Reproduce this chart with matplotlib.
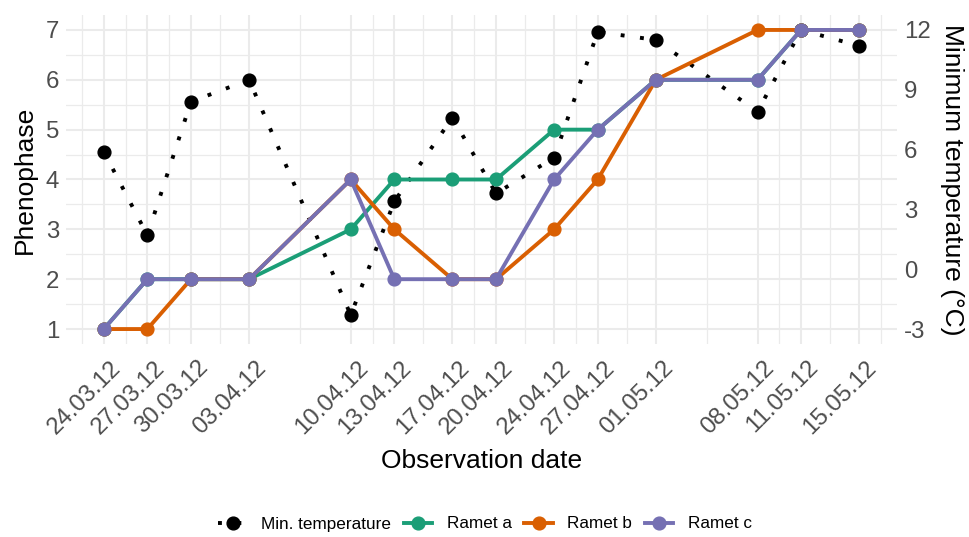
import matplotlib
matplotlib.use("Agg")
import matplotlib.pyplot as plt
import matplotlib.dates as mdates
import matplotlib.transforms as mtransforms
from matplotlib.lines import Line2D
import numpy as np
import datetime as dt

plt.rcParams['font.family'] = ['Liberation Sans', 'DejaVu Sans']

dates_str = ["24.03.12", "27.03.12", "30.03.12", "03.04.12", "10.04.12", "13.04.12", "17.04.12",
             "20.04.12", "24.04.12", "27.04.12", "01.05.12", "08.05.12", "11.05.12", "15.05.12"]
min_temp = [5.9, 1.7, 8.4, 9.5, -2.3, 3.4, 7.6, 3.8, 5.6, 11.9, 11.5, 7.9, 12.0, 11.2]
ramet_a = [1, 2, 2, 2, 3, 4, 4, 4, 5, 5, 6, 6, 7, 7]
ramet_b = [1, 1, 2, 2, 4, 3, 2, 2, 3, 4, 6, 7, 7, 7]
ramet_c = [1, 2, 2, 2, 4, 2, 2, 2, 4, 5, 6, 6, 7, 7]
y_ticks = [1, 2, 3, 4, 5, 6, 7]
temp_ticks = [-3, 0, 3, 6, 9, 12]

dates = [dt.datetime.strptime(s, "%d.%m.%y") for s in dates_str]
xnum = mdates.date2num(dates)

def t2p(t):
    return 1 + (np.asarray(t, dtype=float) + 3) * 0.4

def p2t(p):
    return (np.asarray(p, dtype=float) - 1) / 0.4 - 3

col_a, col_b, col_c = "#1B9E77", "#D95F02", "#7570B3"
grid_col = "#EBEBEB"
tick_col = "#4D4D4D"

fig = plt.figure(figsize=(9.7, 5.37), dpi=100)
ax = fig.add_axes([66/970, 1-344/537, (897-66)/970, (344-15)/537])

# limits with 5% expansion
span = xnum[-1] - xnum[0]
ax.set_xlim(xnum[0] - 0.05*span, xnum[-1] + 0.05*span)
ax.set_ylim(0.7, 7.3)

# grid: major + minor (ggplot-style)
bd = xnum[1] - xnum[0]
ext = np.concatenate([[xnum[0]-bd], xnum, [xnum[-1]+bd]])
x_minor = (ext[:-1] + ext[1:]) / 2
for xm in x_minor:
    ax.axvline(xm, color=grid_col, lw=0.9, zorder=0)
for xm in xnum:
    ax.axvline(xm, color=grid_col, lw=1.5, zorder=0.1)
for ym in np.arange(0.5, 8, 1.0):
    ax.axhline(ym, color=grid_col, lw=0.9, zorder=0)
for ym in y_ticks:
    ax.axhline(ym, color=grid_col, lw=1.5, zorder=0.1)

lw = 2.8
ms = 9.2
dot_style = (0, (1, 4))
ax.plot(xnum, t2p(min_temp), color="black", lw=2.8, linestyle=dot_style,
        marker="o", ms=ms, zorder=2)
ax.plot(xnum, ramet_a, color=col_a, lw=lw, marker="o", ms=ms, zorder=3)
ax.plot(xnum, ramet_b, color=col_b, lw=lw, marker="o", ms=ms, zorder=4)
ax.plot(xnum, ramet_c, color=col_c, lw=lw, marker="o", ms=ms, zorder=5)

for s in ax.spines.values():
    s.set_visible(False)

ax.set_xticks(xnum)
ax.set_xticklabels(dates_str, rotation=45, ha="right", va="top", rotation_mode="anchor")
ax.set_yticks(y_ticks)
ax.set_yticklabels([str(v) for v in y_ticks])
ax.tick_params(axis="both", length=0, labelsize=17.3, labelcolor=tick_col)
ax.tick_params(axis="x", pad=9)
ax.tick_params(axis="y", pad=5)
offset = mtransforms.ScaledTranslation(6/100, 0, fig.dpi_scale_trans)
for lab in ax.get_xticklabels():
    lab.set_transform(lab.get_transform() + offset)

ax.set_xlabel("Observation date", fontsize=19, color="black", labelpad=8)
ax.set_ylabel("Phenophase", fontsize=19, color="black", labelpad=6)

sec = ax.secondary_yaxis("right", functions=(p2t, t2p))
sec.set_yticks(temp_ticks)
sec.set_yticklabels([str(v) for v in temp_ticks])
sec.tick_params(axis="y", length=0, labelsize=17.3, labelcolor=tick_col, pad=5)
for s in sec.spines.values():
    s.set_visible(False)
sec.set_ylabel("Minimum temperature (°C)", fontsize=19, color="black",
               rotation=-90, va="bottom", labelpad=7)

handles = [
    Line2D([], [], color="black", lw=2.8, linestyle=(0, (1, 1.5)), marker="o", ms=ms),
    Line2D([], [], color=col_a, lw=lw, marker="o", ms=ms),
    Line2D([], [], color=col_b, lw=lw, marker="o", ms=ms),
    Line2D([], [], color=col_c, lw=lw, marker="o", ms=ms),
]
labels = ["Min. temperature", "Ramet a", "Ramet b", "Ramet c"]
fig.legend(handles, labels, loc="center", bbox_to_anchor=(0.5, 1-524/537), ncol=4,
           frameon=False, fontsize=12.3, handlelength=1.65, handletextpad=0.85,
           columnspacing=0.75)

fig.savefig("out.png", dpi=100)
